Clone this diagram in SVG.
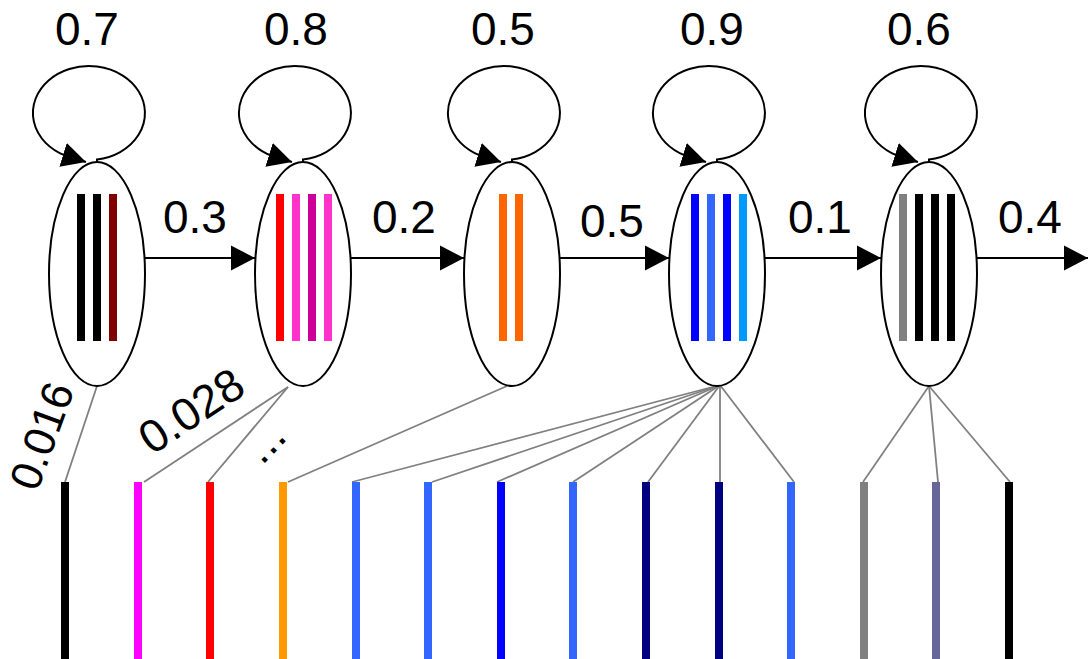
<svg xmlns="http://www.w3.org/2000/svg" width="1089" height="659" viewBox="0 0 1089 659">
  <style>
    .label { font-family: "Liberation Sans", Arial, Helvetica, sans-serif; font-size: 46px; fill: #000; }
    .small { font-size: 44px; }
    .state { fill: #fff; stroke: #000; stroke-width: 2; }
    .edge { fill: none; stroke: #000; stroke-width: 2; marker-end: url(#arrow); }
    .emit { stroke: #808080; stroke-width: 1.8; fill: none; }
  </style>
  <defs>
    <marker id="arrow" markerUnits="userSpaceOnUse" markerWidth="25" markerHeight="26" viewBox="0 0 25 26" refX="24" refY="13" orient="auto">
      <path d="M0,0.5 L24,13 L0,25.5 Z" fill="#000"/>
    </marker>
  </defs>

  <rect width="1089" height="659" fill="#fff"/>

  <!-- connectors: emission lines, self loops, transitions and their labels -->
  <g id="connectors">
    <g id="emissions">
      <line class="emit" x1="97" y1="386" x2="65" y2="482"/>
      <line class="emit" x1="288" y1="387" x2="144" y2="482"/>
      <line class="emit" x1="288" y1="387" x2="208" y2="482"/>
      <line class="emit" x1="507" y1="386" x2="288" y2="482"/>
      <line class="emit" x1="720" y1="385" x2="352" y2="482"/>
      <line class="emit" x1="720" y1="385" x2="432" y2="482"/>
      <line class="emit" x1="720" y1="385" x2="497" y2="482"/>
      <line class="emit" x1="720" y1="385" x2="573" y2="482"/>
      <line class="emit" x1="720" y1="385" x2="648" y2="482"/>
      <line class="emit" x1="720" y1="385" x2="720" y2="482"/>
      <line class="emit" x1="720" y1="385" x2="794" y2="482"/>
      <line class="emit" x1="929" y1="386" x2="863" y2="482"/>
      <line class="emit" x1="929" y1="386" x2="938" y2="482"/>
      <line class="emit" x1="929" y1="386" x2="1010" y2="482"/>
    </g>
    <g id="self-loops">
      <path class="edge" d="M97,162 L97,159.5 A56,47 0 1 0 65.3,155.6 L86,162"/>
      <path class="edge" d="M303,162 L303,159.5 A56,47 0 1 0 271.3,155.6 L292,162"/>
      <path class="edge" d="M512,162 L512,159.5 A56,47 0 1 0 480.3,155.6 L501,162"/>
      <path class="edge" d="M717,162 L717,159.5 A56,47 0 1 0 685.3,155.6 L706,162"/>
      <path class="edge" d="M929,162 L929,159.5 A56,47 0 1 0 897.3,155.6 L918,162"/>
    </g>
    <g id="transitions">
      <path class="edge" d="M145,258 H255"/>
      <path class="edge" d="M351,258 H464"/>
      <path class="edge" d="M560,258 H669"/>
      <path class="edge" d="M765,258 H881"/>
      <path class="edge" d="M977,258 H1088"/>
    </g>
    <g id="edge-labels">
      <text class="label" x="55" y="45">0.7</text>
      <text class="label" x="264" y="45">0.8</text>
      <text class="label" x="471" y="45">0.5</text>
      <text class="label" x="680" y="45">0.9</text>
      <text class="label" x="887" y="45">0.6</text>
      <text class="label" x="163" y="233">0.3</text>
      <text class="label" x="372" y="233">0.2</text>
      <text class="label" x="580" y="237">0.5</text>
      <text class="label" x="788" y="233">0.1</text>
      <text class="label" x="998" y="233">0.4</text>
      <text class="label small" text-anchor="middle" transform="translate(56,441) rotate(-70)">0.016</text>
      <text class="label" text-anchor="middle" transform="translate(200,424) rotate(-33.4)">0.028</text>
      <text class="label" transform="translate(262,466) rotate(-46)">...</text>
    </g>
  </g>

  <!-- hidden states -->
  <g id="state-1">
    <ellipse class="state" cx="97" cy="274" rx="48" ry="112"/>
    <rect x="77" y="194" width="8" height="147" fill="#000000"/>
    <rect x="93" y="194" width="8" height="147" fill="#000000"/>
    <rect x="109" y="194" width="8" height="147" fill="#800000"/>
  </g>
  <g id="state-2">
    <ellipse class="state" cx="303" cy="274" rx="48" ry="112"/>
    <rect x="276" y="194" width="8" height="147" fill="#FF0000"/>
    <rect x="292" y="194" width="8" height="147" fill="#FF33CC"/>
    <rect x="308" y="194" width="8" height="147" fill="#CC0099"/>
    <rect x="324" y="194" width="8" height="147" fill="#FF33CC"/>
  </g>
  <g id="state-3">
    <ellipse class="state" cx="512" cy="274" rx="48" ry="112"/>
    <rect x="499" y="194" width="8" height="147" fill="#FF6600"/>
    <rect x="515" y="194" width="8" height="147" fill="#FF6600"/>
  </g>
  <g id="state-4">
    <ellipse class="state" cx="717" cy="274" rx="48" ry="112"/>
    <rect x="691" y="194" width="8" height="147" fill="#0000FF"/>
    <rect x="707" y="194" width="8" height="147" fill="#3366FF"/>
    <rect x="723" y="194" width="8" height="147" fill="#0000FF"/>
    <rect x="739" y="194" width="8" height="147" fill="#0099FF"/>
  </g>
  <g id="state-5">
    <ellipse class="state" cx="929" cy="274" rx="48" ry="112"/>
    <rect x="899" y="194" width="8" height="147" fill="#808080"/>
    <rect x="915" y="194" width="8" height="147" fill="#000000"/>
    <rect x="931" y="194" width="8" height="147" fill="#000000"/>
    <rect x="947" y="194" width="8" height="147" fill="#000000"/>
  </g>

  <!-- observed symbols -->
  <g id="observations">
    <rect x="61" y="482" width="8" height="177" fill="#000000"/>
    <rect x="134" y="482" width="8" height="177" fill="#FF00FF"/>
    <rect x="206" y="482" width="8" height="177" fill="#FF0000"/>
    <rect x="279" y="482" width="8" height="177" fill="#FF9900"/>
    <rect x="352" y="482" width="8" height="177" fill="#3366FF"/>
    <rect x="424" y="482" width="8" height="177" fill="#3366FF"/>
    <rect x="497" y="482" width="8" height="177" fill="#0000FF"/>
    <rect x="569" y="482" width="8" height="177" fill="#3366FF"/>
    <rect x="642" y="482" width="8" height="177" fill="#000080"/>
    <rect x="715" y="482" width="8" height="177" fill="#000080"/>
    <rect x="787" y="482" width="8" height="177" fill="#3366FF"/>
    <rect x="860" y="482" width="8" height="177" fill="#808080"/>
    <rect x="932" y="482" width="8" height="177" fill="#666699"/>
    <rect x="1005" y="482" width="8" height="177" fill="#000000"/>
  </g>
</svg>
